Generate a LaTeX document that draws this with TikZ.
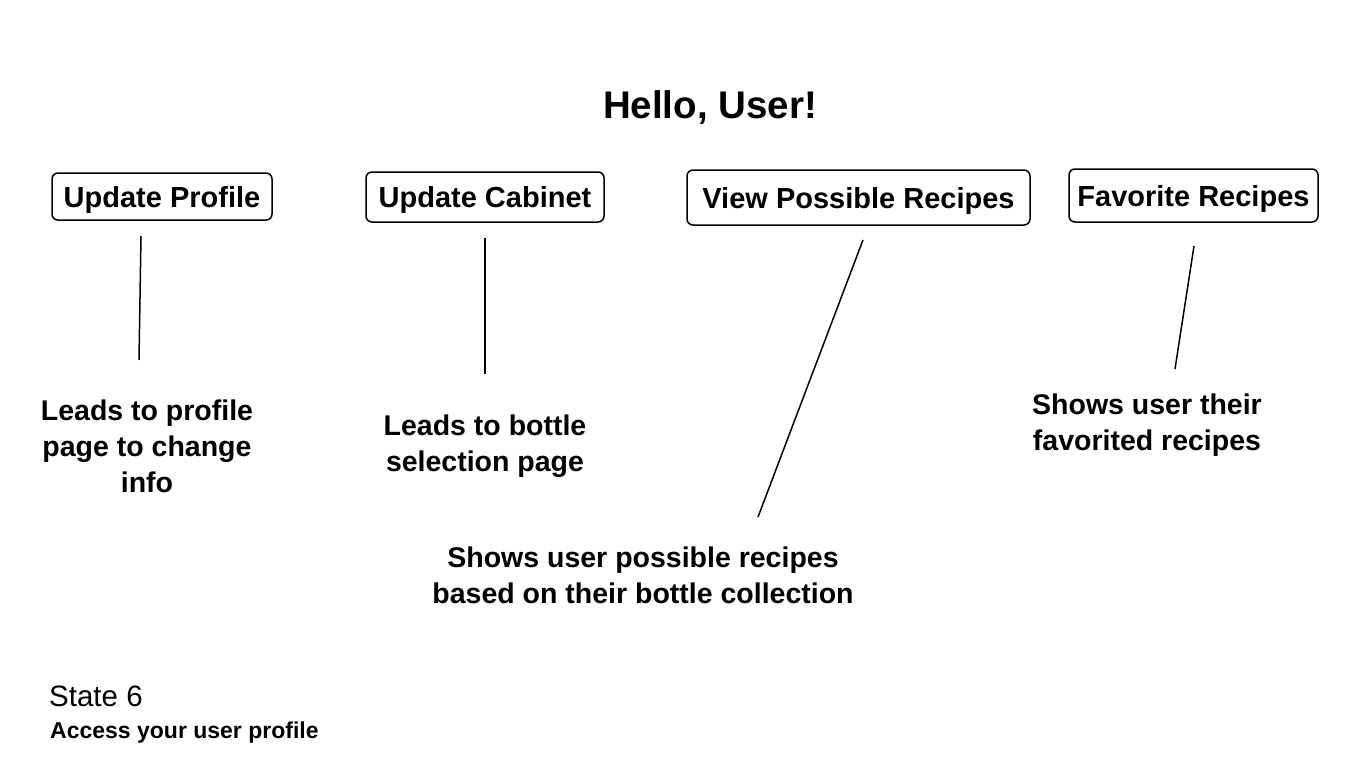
\documentclass[tikz,border=0pt]{standalone}
\usepackage{fontspec}
\setmainfont{Liberation Sans}
\begin{document}
\begin{tikzpicture}[x=1pt,y=-1pt,
  btn/.style={draw=black, line width=1.5pt, rounded corners=6pt, inner sep=0pt, text depth=0pt, font=\fontsize{29}{34}\selectfont\bfseries},
  desc/.style={align=center, inner sep=0pt, font=\fontsize{28.5}{36}\selectfont\bfseries},
  link/.style={draw=black, line width=1.5pt}]
\useasboundingbox (0,0) rectangle (1366,768);
\fill[white] (0,0) rectangle (1366,768);
\node[font=\fontsize{38.5}{44}\selectfont\bfseries] (title) at (710,108) {Hello, User!};
\node[btn, minimum width=220pt, minimum height=47pt] (prof) at (162,196.5) {Update Profile};
\node[btn, minimum width=238pt, minimum height=50pt] (cab) at (485,197) {Update Cabinet};
\node[btn, minimum width=343pt, minimum height=55pt] (view) at (858.5,197.5) {View Possible Recipes};
\node[btn, minimum width=249pt, minimum height=53pt] (fav) at (1193.5,195.5) {Favorite Recipes};
\node[desc] (dprof) at (147,446) {Leads to profile\\page to change\\info};
\node[desc] (dcab) at (485,446) {Leads to bottle\\selection page};
\node[desc] (dview) at (643,575) {Shows user possible recipes\\based on their bottle collection};
\node[desc] (dfav) at (1147,425) {Shows user their\\favorited recipes};
\coordinate (p1) at (141,236); \coordinate (p2) at (139,360);
\coordinate (c1) at (485,238); \coordinate (c2) at (485,374);
\coordinate (v1) at (863,240); \coordinate (v2) at (758,517);
\coordinate (f1) at (1194,246); \coordinate (f2) at (1175,369);
\draw[link] (p1) -- (p2);
\draw[link] (c1) -- (c2);
\draw[link] (v1) -- (v2);
\draw[link] (f1) -- (f2);
\node[anchor=west, inner sep=0pt, font=\fontsize{29.5}{34}\selectfont] (state) at (49,696) {State 6};
\node[anchor=west, inner sep=0pt, font=\fontsize{23}{28}\selectfont\bfseries] (sub) at (50,733) {Access your user profile};
\end{tikzpicture}
\end{document}
